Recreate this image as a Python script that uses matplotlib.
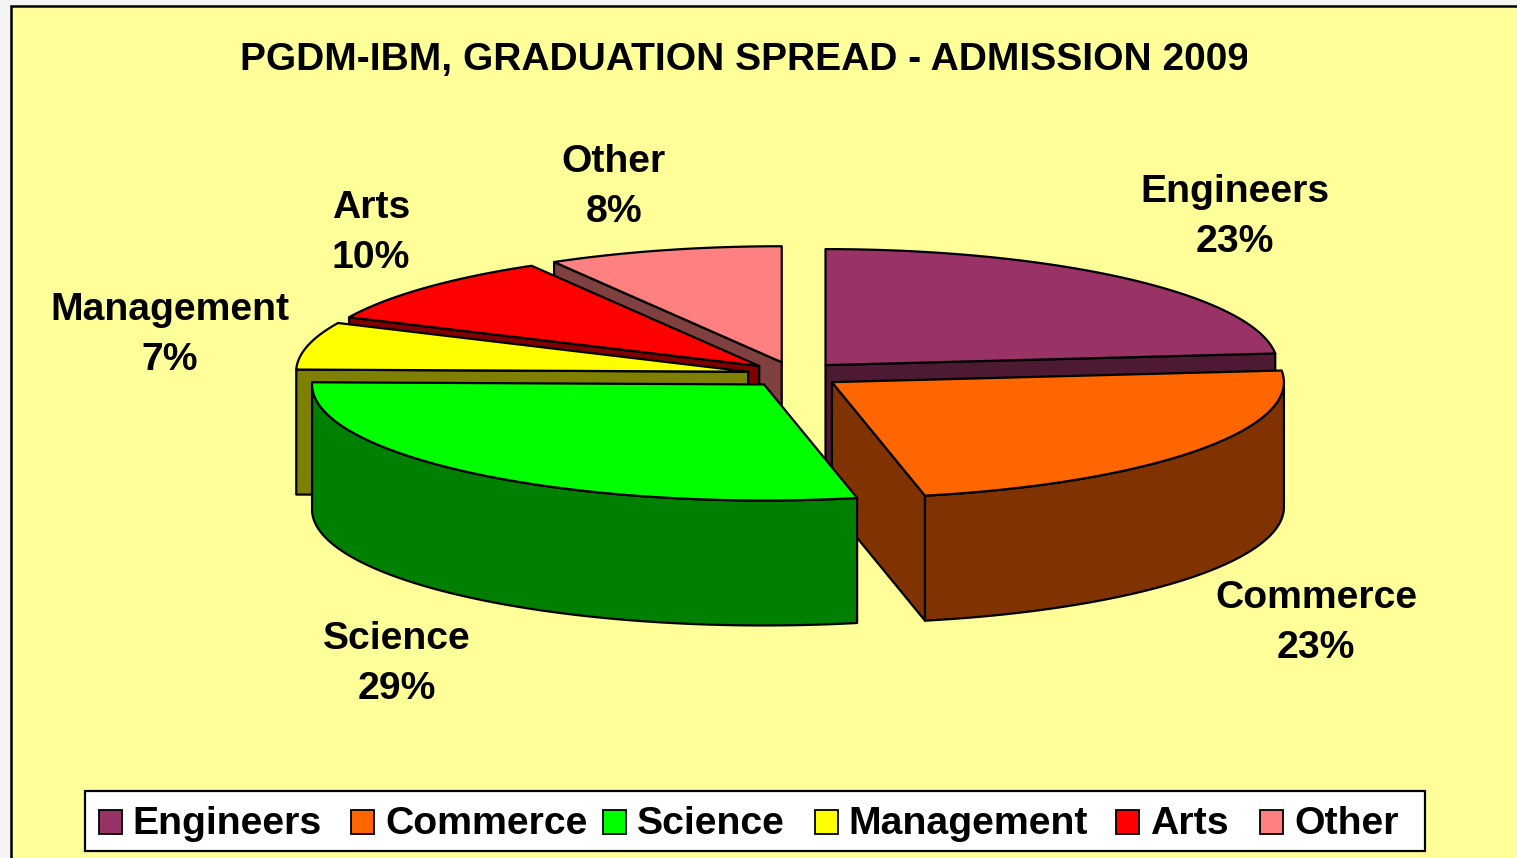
import numpy as np
import matplotlib
matplotlib.use("Agg")
import matplotlib.pyplot as plt
from matplotlib.patches import Rectangle

plt.rcParams['font.family'] = ['Liberation Sans', 'DejaVu Sans']
plt.rcParams['font.weight'] = 'bold'

title = "PGDM-IBM, GRADUATION SPREAD - ADMISSION 2009"
categories = ["Engineers", "Commerce", "Science", "Management", "Arts", "Other"]
values = [23.4, 23.3, 28.6, 6.6, 9.7, 8.4]
top_colors = ["#993366", "#FF6600", "#00FF00", "#FFFF00", "#FF0000", "#FF8080"]
side_colors = ["#4D1933", "#803300", "#008000", "#808000", "#800000", "#804040"]

# pie geometry, in pixels of the picture
cx, cy = 794, 374.6
rx, ry = 452, 116
explode_x, explode_y = 47, 12.8
depth = 125
draw_order = [5, 4, 3, 0, 1, 2]
label_pos = [(1235, 216.5), (1316, 622.5), (397, 664), (170, 335.5), (371, 232.5), (614, 187.5)]
legend_swatch_x = [99, 351, 603, 815, 1116, 1260]
legend_text_x = [132, 385, 637, 848, 1150, 1294]

fig = plt.figure(figsize=(15.17, 8.58), dpi=100, facecolor="#F4F4F4")
ax = fig.add_axes([0, 0, 1, 1])
ax.set_xlim(0, 1517)
ax.set_ylim(858, 0)
ax.axis("off")

ax.add_patch(Rectangle((11, 6), 1600, 900, facecolor="#FFFF99", edgecolor="black", linewidth=1.8, zorder=0))

cum = np.cumsum([0] + values) / sum(values) * 2 * np.pi


def draw_wedge(i):
    t1, t2 = cum[i], cum[i + 1]
    mid = (t1 + t2) / 2
    ox = cx + explode_x * np.sin(mid)
    oy = cy - explode_y * np.cos(mid)
    t = np.linspace(t1, t2, 120)
    x = ox + rx * np.sin(t)
    y = oy - ry * np.cos(t)

    # flat cut faces, only those turned to the viewer
    faces = []
    if t1 > np.pi:
        faces.append(0)
    if t2 < np.pi:
        faces.append(-1)
    for k in faces:
        ax.fill([ox, x[k], x[k], ox], [oy, y[k], y[k] + depth, oy + depth],
                facecolor=side_colors[i], edgecolor="black", linewidth=1.6, joinstyle="round")

    # outer rim, same thing
    front = (t > np.pi / 2) & (t < 3 * np.pi / 2)
    if front.any():
        fx, fy = x[front], y[front]
        ax.fill(np.r_[fx, fx[::-1]], np.r_[fy, fy[::-1] + depth],
                facecolor=side_colors[i], edgecolor="black", linewidth=1.6, joinstyle="round")

    ax.fill(np.r_[ox, x], np.r_[oy, y], facecolor=top_colors[i], edgecolor="black",
            linewidth=1.6, joinstyle="round")


for i in draw_order:
    draw_wedge(i)

for i, name in enumerate(categories):
    ax.text(label_pos[i][0], label_pos[i][1], f"{name}\n{values[i]:.0f}%", fontsize=28.2,
            ha="center", va="center", linespacing=1.5, color="black")

t = ax.text(240, 70.5, title, fontsize=28.1, ha="left", va="baseline", color="black")
t.set_clip_path(Rectangle((0, 0), 1247, 858, transform=ax.transData))
t.set_clip_on(True)

# legend box
ax.add_patch(Rectangle((85, 791), 1340, 60, facecolor="white", edgecolor="black", linewidth=1.6))
for i, name in enumerate(categories):
    ax.add_patch(Rectangle((legend_swatch_x[i], 810), 23, 24, facecolor=top_colors[i],
                           edgecolor="black", linewidth=1.3))
    ax.text(legend_text_x[i], 834, name, fontsize=28.3, ha="left", va="baseline", color="black")

plt.savefig("out.png", dpi=100, facecolor=fig.get_facecolor())
